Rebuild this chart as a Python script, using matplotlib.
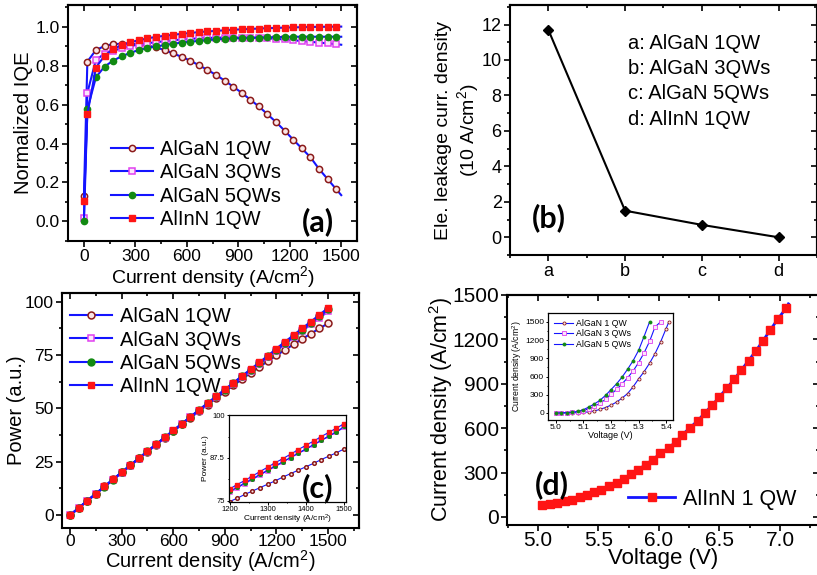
import matplotlib
matplotlib.use("Agg")
import matplotlib.pyplot as plt
from matplotlib.ticker import MultipleLocator

plt.rcParams["font.family"] = ["Liberation Sans", "DejaVu Sans"]
plt.rcParams["mathtext.fontset"] = "custom"
plt.rcParams["mathtext.rm"] = "Liberation Sans"
plt.rcParams["mathtext.default"] = "regular"

# ---- (a) normalized IQE vs current density --------------------------------
j_a = [0, 20, 70, 120, 170, 220, 270, 320, 370, 420, 470, 520, 570, 620, 670,
       720, 770, 820, 870, 920, 970, 1020, 1070, 1120, 1170, 1220, 1270, 1320,
       1370, 1420, 1470, 1500]
iqe_1qw = [0.13, 0.82, 0.88, 0.90, 0.91, 0.912, 0.912, 0.91, 0.903, 0.893,
           0.88, 0.862, 0.845, 0.825, 0.802, 0.778, 0.752, 0.723, 0.692, 0.66,
           0.625, 0.59, 0.55, 0.51, 0.466, 0.42, 0.375, 0.33, 0.27, 0.218,
           0.166, 0.135]
iqe_3qw = [0.02, 0.66, 0.83, 0.86, 0.875, 0.89, 0.90, 0.908, 0.915, 0.92,
           0.925, 0.93, 0.934, 0.937, 0.94, 0.942, 0.943, 0.944, 0.944, 0.944,
           0.943, 0.942, 0.94, 0.937, 0.934, 0.93, 0.926, 0.922, 0.918, 0.914,
           0.91, 0.907]
iqe_5qw = [0.0, 0.575, 0.74, 0.795, 0.825, 0.848, 0.865, 0.88, 0.89, 0.898,
           0.905, 0.912, 0.918, 0.922, 0.927, 0.931, 0.934, 0.937, 0.939,
           0.941, 0.943, 0.944, 0.945, 0.946, 0.947, 0.948, 0.948, 0.948,
           0.948, 0.948, 0.948, 0.948]
iqe_alinn = [0.105, 0.55, 0.79, 0.85, 0.885, 0.905, 0.92, 0.93, 0.94, 0.947,
             0.953, 0.958, 0.963, 0.967, 0.972, 0.975, 0.978, 0.981, 0.984,
             0.986, 0.988, 0.99, 0.992, 0.993, 0.995, 0.996, 0.997, 0.998,
             0.999, 0.999, 1.0, 1.0]

# ---- (b) electron leakage current density ---------------------------------
leak_labels = ["a", "b", "c", "d"]
leak_values = [11.7, 1.5, 0.7, 0.0]
leak_names = ["a: AlGaN 1QW", "b: AlGaN 3QWs", "c: AlGaN 5QWs", "d: AlInN 1QW"]

# ---- (c) output power vs current density ----------------------------------
j_c = [0, 50, 100, 150, 200, 250, 300, 350, 400, 450, 500, 550, 600, 650,
       700, 750, 800, 850, 900, 950, 1000, 1050, 1100, 1150, 1200, 1250,
       1300, 1350, 1400, 1450, 1500]
pow_1qw = [0, 3.4, 6.8, 10.1, 13.5, 16.8, 20.1, 23.4, 26.6, 29.8, 33.0, 36.2,
           39.3, 42.5, 45.6, 48.7, 51.8, 54.8, 57.8, 60.8, 63.7, 66.6, 69.4,
           72.1, 74.8, 77.4, 80.0, 82.5, 85.0, 87.4, 89.8]
pow_3qw = [0, 3.4, 6.7, 10.0, 13.3, 16.6, 19.9, 23.2, 26.5, 29.8, 33.0, 36.2,
           39.4, 42.6, 45.8, 49.0, 52.2, 55.3, 58.4, 61.5, 64.6, 67.7, 70.8,
           73.9, 77.0, 80.1, 83.2, 86.3, 89.3, 92.4, 95.4]
pow_5qw = [0, 3.4, 6.7, 10.0, 13.4, 16.7, 20.0, 23.3, 26.6, 29.9, 33.1, 36.4,
           39.6, 42.8, 46.0, 49.2, 52.4, 55.6, 58.7, 61.9, 65.0, 68.1, 71.2,
           74.4, 77.5, 80.6, 83.7, 86.9, 90.0, 93.1, 96.3]
pow_alinn = [0, 3.4, 6.8, 10.1, 13.5, 16.8, 20.1, 23.4, 26.7, 30.0, 33.2,
             36.5, 39.7, 42.9, 46.1, 49.3, 52.5, 55.7, 58.9, 62.0, 65.2, 68.3,
             71.5, 74.6, 78.0, 81.2, 84.3, 87.5, 90.6, 93.8, 97.0]

# inset (c): zoom on 1200-1500 A/cm2
j_ci = [1200, 1220, 1240, 1260, 1280, 1300, 1320, 1340, 1360, 1380, 1400,
        1420, 1440, 1460, 1480, 1500]
powi_1qw = [74.7, 75.7, 76.8, 77.8, 78.8, 79.8, 80.8, 81.9, 82.9, 83.9, 84.9,
            85.9, 87.0, 88.0, 89.0, 90.1]
powi_3qw = [77.5, 78.7, 80.0, 81.2, 82.5, 83.8, 85.0, 86.3, 87.6, 88.8, 90.0,
            91.3, 92.6, 93.8, 95.1, 96.4]
powi_5qw = [77.7, 78.9, 80.2, 81.4, 82.7, 83.9, 85.2, 86.4, 87.6, 88.9, 90.1,
            91.4, 92.6, 93.9, 95.1, 96.7]
powi_alinn = [78.4, 79.7, 80.9, 82.2, 83.5, 84.8, 86.1, 87.3, 88.6, 89.9,
              91.2, 92.4, 93.7, 95.0, 96.2, 97.5]

# ---- (d) J-V of AlInN 1 QW ------------------------------------------------
v_d = [5.036, 5.097, 5.16, 5.22, 5.28, 5.345, 5.405, 5.46, 5.52, 5.59, 5.65,
       5.71, 5.77, 5.83, 5.89, 5.95, 6.01, 6.08, 6.14, 6.19, 6.255, 6.32,
       6.38, 6.44, 6.50, 6.56, 6.62, 6.68, 6.74, 6.80, 6.86, 6.92, 6.98, 7.05,
       7.07]
j_d = [79, 86, 95, 106, 117, 135, 151, 169, 185, 207, 232, 259, 289, 320,
       354, 388, 429, 467, 508, 553, 602, 650, 704, 756, 812, 869, 929, 992,
       1056, 1121, 1191, 1263, 1335, 1410, 1440]

# inset (d): AlGaN J-V curves
v_di = [5.00, 5.02, 5.04, 5.06, 5.08, 5.10, 5.12, 5.14, 5.16, 5.18, 5.20,
        5.22, 5.24, 5.26, 5.28, 5.30, 5.32, 5.34, 5.36, 5.38, 5.40, 5.41]
ji_1qw = [0, 0, 1, 2, 5, 10, 20, 35, 60, 90, 130, 180, 245, 320, 430, 560,
          680, 820, 980, 1170, 1390, 1500]
ji_3qw = [0, 2, 6, 12, 22, 40, 70, 110, 160, 225, 305, 390, 480, 580, 690,
          830, 990, 1180, 1420, 1500]
ji_5qw = [0, 3, 7, 13, 25, 55, 100, 150, 210, 290, 385, 480, 590, 720, 860,
          1030, 1260, 1500]

BLUE = "#1414ff"
STYLE = {
    "1qw": dict(marker="o", mfc="#fbe6e6", mec="#8b1a1a", mew=1.1),
    "3qw": dict(marker="s", mfc="#fbe6fb", mec="#e040f0", mew=1.1),
    "5qw": dict(marker="o", mfc="#128a12", mec="#128a12", mew=1.0),
    "alinn": dict(marker="s", mfc="#ff1414", mec="#ff1414", mew=1.0),
}
NAMES = {"1qw": "AlGaN 1QW", "3qw": "AlGaN 3QWs", "5qw": "AlGaN 5QWs",
         "alinn": "AlInN 1QW"}


def frame(ax, xmaj, xmin, ymaj, ymin, size, length=4.0):
    ax.xaxis.set_major_locator(MultipleLocator(xmaj))
    ax.xaxis.set_minor_locator(MultipleLocator(xmin))
    ax.yaxis.set_major_locator(MultipleLocator(ymaj))
    ax.yaxis.set_minor_locator(MultipleLocator(ymin))
    ax.tick_params(which="both", direction="out", width=1.2, labelsize=size,
                   pad=2)
    ax.tick_params(which="major", length=length)
    ax.tick_params(which="minor", length=length * 0.55)
    for s in ax.spines.values():
        s.set_linewidth(1.5)
    # mirrored inward ticks on top and right
    top = ax.secondary_xaxis("top")
    right = ax.secondary_yaxis("right")
    top.xaxis.set_major_locator(MultipleLocator(xmaj))
    top.xaxis.set_minor_locator(MultipleLocator(xmin))
    right.yaxis.set_major_locator(MultipleLocator(ymaj))
    right.yaxis.set_minor_locator(MultipleLocator(ymin))
    for sec in (top, right):
        sec.tick_params(which="both", direction="in", width=1.2,
                        labeltop=False, labelright=False)
        sec.tick_params(which="major", length=length)
        sec.tick_params(which="minor", length=length * 0.55)
        for s in sec.spines.values():
            s.set_linewidth(1.5)


fig = plt.figure(figsize=(8.17, 5.75), dpi=100)
BOLD = dict(family="Lato", fontweight="bold", fontsize=22)

# ---- (a) -------------------------------------------------------------------
ax = fig.add_axes([0.0832, 0.581, 0.354, 0.410])
for key, ys in (("1qw", iqe_1qw), ("3qw", iqe_3qw), ("5qw", iqe_5qw),
                ("alinn", iqe_alinn)):
    ax.plot(j_a, ys, color=BLUE, lw=1.5, ms=4.5, markevery=slice(0, -1),
            label=NAMES[key], **STYLE[key])
ax.set_xlim(-93, 1593)
ax.set_ylim(-0.1, 1.11)
frame(ax, 300, 150, 0.2, 0.1, 12.5)
ax.yaxis.set_major_formatter(matplotlib.ticker.FormatStrFormatter("%.1f"))
ax.set_xlabel("Current density (A/cm$^2$)", fontsize=14, labelpad=0)
ax.set_ylabel("Normalized IQE", fontsize=14.5, labelpad=2)
ax.legend(loc="lower left", bbox_to_anchor=(0.1, -0.01), frameon=False,
          fontsize=14.5, handlelength=2.1, handletextpad=0.35,
          labelspacing=0.22, borderpad=0.2)
ax.text(0.81, 0.04, "(a)", transform=ax.transAxes, **BOLD)

# ---- (b) -------------------------------------------------------------------
ax = fig.add_axes([0.6242, 0.5565, 0.3757, 0.4348])
ax.plot(range(len(leak_values)), leak_values, color="black", lw=1.5,
        marker="D", ms=5.5)
ax.set_xlim(-0.5, 3.5)
ax.set_ylim(-1.0, 13.1)
frame(ax, 1, 0.5, 2, 1, 13)
ax.set_xticks(range(len(leak_labels)))
ax.set_xticklabels(leak_labels)
ax.set_ylabel("Ele. leakage curr. density\n(10 A/cm$^2$)", fontsize=14,
              labelpad=0.5, linespacing=1.15)
ax.text(0.385, 0.885, "\n".join(leak_names), transform=ax.transAxes,
        fontsize=14.5, va="top", ha="left", linespacing=1.42)
ax.text(0.07, 0.11, "(b)", transform=ax.transAxes, **BOLD)

# ---- (c) -------------------------------------------------------------------
ax = fig.add_axes([0.0759, 0.0817, 0.3635, 0.4087])
for key, ys in (("1qw", pow_1qw), ("3qw", pow_3qw), ("5qw", pow_5qw),
                ("alinn", pow_alinn)):
    ax.plot(j_c, ys, color=BLUE, lw=1.5, ms=5, label=NAMES[key],
            **STYLE[key])
ax.set_xlim(-47, 1680)
ax.set_ylim(-6, 104)
frame(ax, 300, 150, 25, 12.5, 12.5)
ax.tick_params(axis="x", pad=0.5)
ax.set_xlabel("Current density (A/cm$^2$)", fontsize=14.5, labelpad=-1)
ax.set_ylabel("Power (a.u.)", fontsize=14.5, labelpad=-1)
ax.legend(loc="upper left", bbox_to_anchor=(-0.02, 1.0), frameon=False,
          fontsize=14.5, handlelength=2.1, handletextpad=0.35,
          labelspacing=0.22, borderpad=0.2)

ins = fig.add_axes([0.280, 0.127, 0.144, 0.151])
for key, ys in (("1qw", powi_1qw), ("3qw", powi_3qw), ("5qw", powi_5qw),
                ("alinn", powi_alinn)):
    ins.plot(j_ci, ys, color=BLUE, lw=0.8, ms=2.6, **STYLE[key])
ins.set_xlim(1198, 1506)
ins.set_ylim(74.6, 100)
ins.xaxis.set_major_locator(MultipleLocator(100))
ins.xaxis.set_minor_locator(MultipleLocator(50))
ins.yaxis.set_major_locator(MultipleLocator(12.5))
ins.yaxis.set_minor_locator(MultipleLocator(6.25))
ins.tick_params(which="both", labelsize=5.5, length=1.8, width=0.7, pad=1)
ins.tick_params(which="minor", length=1.0)
ins.yaxis.set_major_formatter(matplotlib.ticker.FuncFormatter(
    lambda v, _: f"{v:g}"))
ins.set_xlabel("Current density (A/cm$^2$)", fontsize=6, labelpad=0)
ins.set_ylabel("Power (a.u.)", fontsize=6, labelpad=1)
for s in ins.spines.values():
    s.set_linewidth(0.9)
ins.text(0.62, 0.05, "(c)", transform=ins.transAxes, **BOLD)

# ---- (d) -------------------------------------------------------------------
ax = fig.add_axes([0.6206, 0.087, 0.3819, 0.4])
ax.plot(v_d, j_d, color=BLUE, lw=2, marker="s", ms=6, mfc="#ff1414",
        mec="#ff1414", markevery=slice(0, -1), label="AlInN 1 QW")
ax.set_xlim(4.744, 7.323)
ax.set_ylim(-54, 1500)
frame(ax, 0.5, 0.25, 300, 150, 15)
ax.tick_params(axis="x", pad=0)
ax.xaxis.set_major_formatter(matplotlib.ticker.FormatStrFormatter("%.1f"))
ax.set_xlabel("Voltage (V)", fontsize=16, labelpad=-1)
ax.set_ylabel("Current density (A/cm$^2$)", fontsize=15.5, labelpad=-2)
ax.legend(loc="lower right", bbox_to_anchor=(0.975, 0.0), frameon=False,
          fontsize=15.5, handlelength=2.2, handletextpad=0.35, borderpad=0.2)
ax.text(0.09, 0.135, "(d)", transform=ax.transAxes, **BOLD)

ins = fig.add_axes([0.6707, 0.2696, 0.153, 0.1861])
for key, ys, name in (("1qw", ji_1qw, "AlGaN 1 QW"),
                      ("3qw", ji_3qw, "AlGaN 3 QWs"),
                      ("5qw", ji_5qw, "AlGaN 5 QWs")):
    st = dict(STYLE[key])
    st["mew"] = 0.6
    ins.plot(v_di[:len(ys)], ys, color=BLUE, lw=0.8, ms=2.2, label=name, **st)
ins.set_xlim(4.971, 5.425)
ins.set_ylim(-115, 1648)
ins.xaxis.set_major_locator(MultipleLocator(0.1))
ins.xaxis.set_minor_locator(MultipleLocator(0.05))
ins.yaxis.set_major_locator(MultipleLocator(300))
ins.yaxis.set_minor_locator(MultipleLocator(150))
ins.xaxis.set_major_formatter(matplotlib.ticker.FormatStrFormatter("%.1f"))
ins.tick_params(which="both", labelsize=6, length=1.8, width=0.7, pad=1)
ins.tick_params(which="minor", length=1.0)
ins.set_xlabel("Voltage (V)", fontsize=6.5, labelpad=0)
ins.set_ylabel("Current density (A/cm$^2$)", fontsize=6.2, labelpad=1)
for s in ins.spines.values():
    s.set_linewidth(0.9)
ins.legend(loc="upper left", frameon=False, fontsize=6.3, handlelength=2.2,
           handletextpad=0.3, labelspacing=0.15, borderpad=0.2)

fig.savefig("out.png", dpi=100)
